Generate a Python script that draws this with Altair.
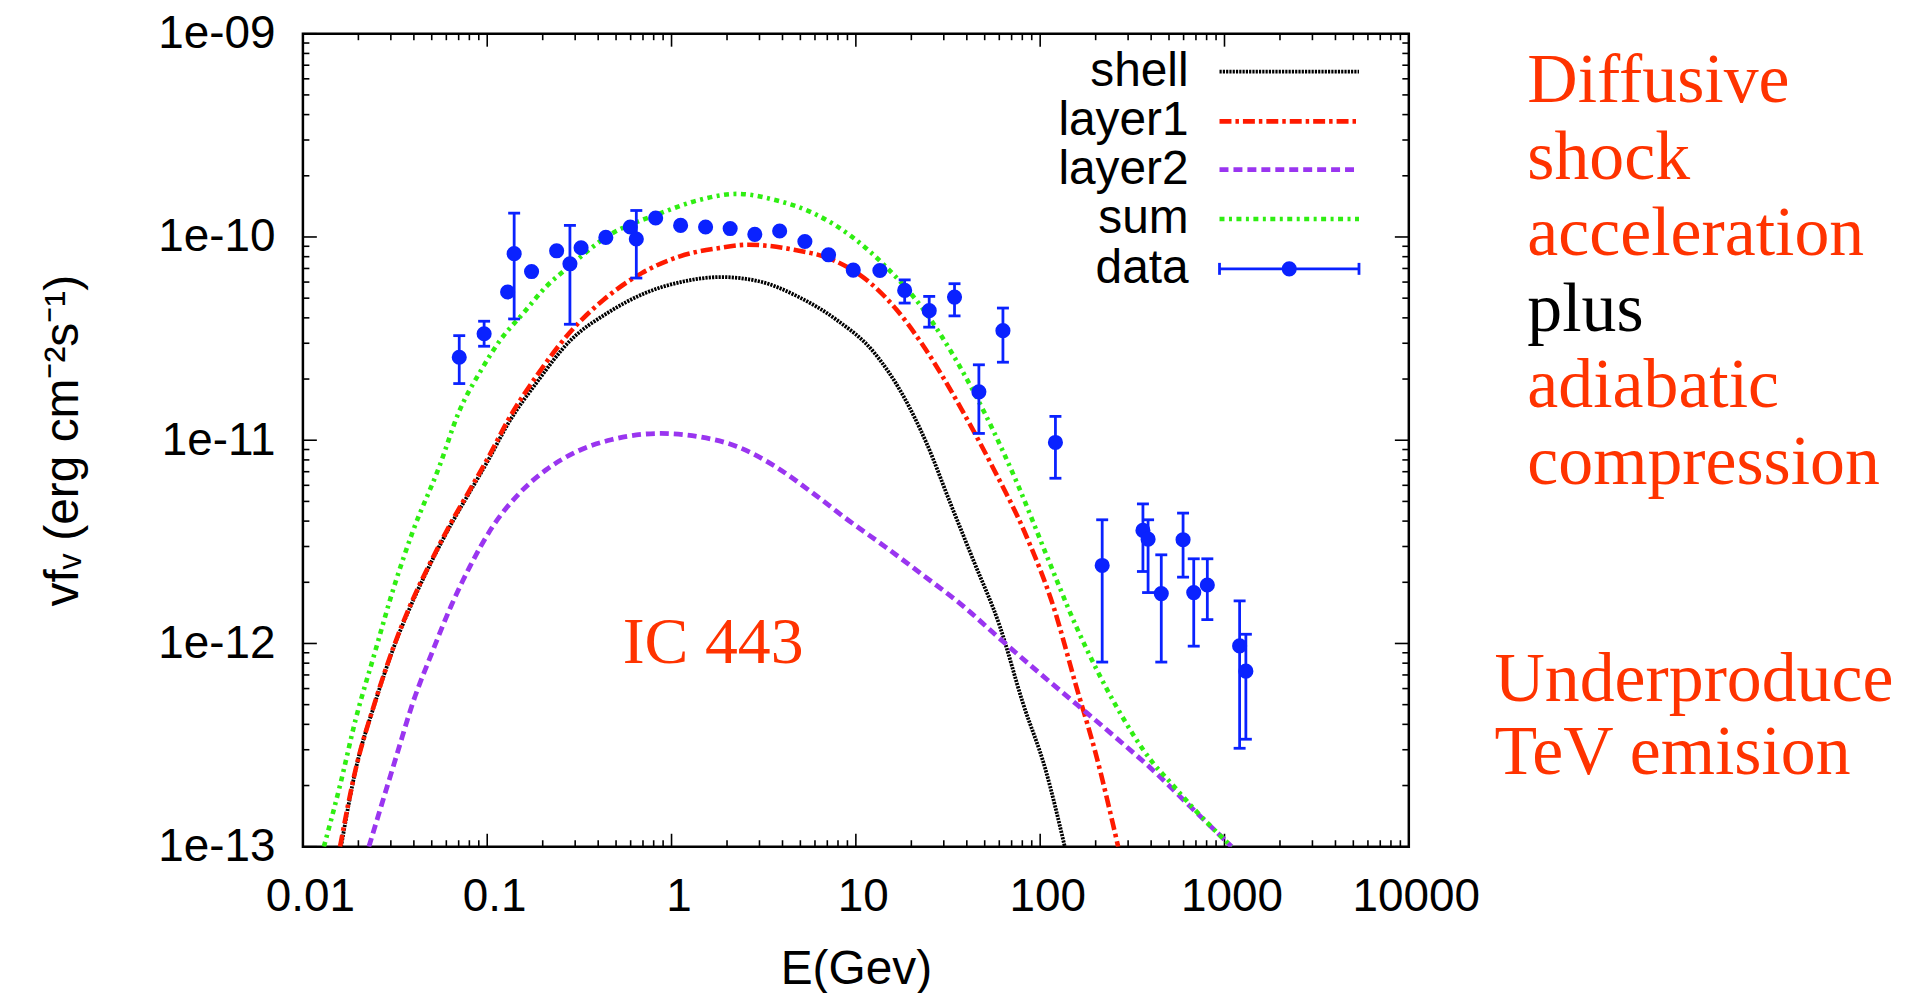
import math
import altair as alt
import pandas as pd

# ---------------- data ----------------
# measured points (E in GeV, nuF_nu in erg cm^-2 s^-1), error bars lo/hi (None = no bar drawn)
data_E = [0.0705, 0.0962, 0.129, 0.140, 0.174, 0.238, 0.281, 0.323, 0.440, 0.597,
          0.644, 0.820, 1.12, 1.53, 2.08, 2.83, 3.86, 5.29, 7.11, 9.68,
          13.5, 18.4, 25.0, 34.3, 46.5, 62.8, 121, 217, 361, 385,
          454, 596, 681, 807, 1208, 1306]
data_F = [2.56e-11, 3.34e-11, 5.36e-11, 8.28e-11, 6.76e-11, 8.55e-11, 7.38e-11, 8.85e-11, 9.95e-11, 1.12e-10,
          9.77e-11, 1.24e-10, 1.14e-10, 1.12e-10, 1.10e-10, 1.03e-10, 1.07e-10, 9.50e-11, 8.17e-11, 6.87e-11,
          6.84e-11, 5.46e-11, 4.34e-11, 5.06e-11, 1.73e-11, 3.46e-11, 9.75e-12, 2.42e-12, 3.60e-12, 3.26e-12,
          1.76e-12, 3.24e-12, 1.78e-12, 1.94e-12, 9.73e-13, 7.31e-13]
data_lo = [1.90e-11, 2.90e-11, None, 3.95e-11, None, None, 3.72e-11, None, None, None,
           6.28e-11, None, None, None, None, None, None, None, None, None,
           None, 4.73e-11, 3.60e-11, 4.09e-11, 1.08e-11, 2.42e-11, 6.50e-12, 8.1e-13, 2.26e-12, 1.78e-12,
           8.1e-13, 2.12e-12, 9.7e-13, 1.31e-12, 3.05e-13, 3.38e-13]
data_hi = [3.27e-11, 3.85e-11, None, 1.31e-10, None, None, 1.14e-10, None, None, None,
           1.35e-10, None, None, None, None, None, None, None, None, None,
           None, 6.15e-11, 5.10e-11, 5.89e-11, 2.35e-11, 4.47e-11, 1.31e-11, 4.06e-12, 4.86e-12, 4.06e-12,
           2.73e-12, 4.38e-12, 2.61e-12, 2.61e-12, 1.62e-12, 1.11e-12]

shell_E = [0.0161, 0.0193, 0.0245, 0.0311, 0.0394, 0.0500, 0.0635, 0.0805, 0.102, 0.130,
           0.190, 0.279, 0.448, 0.721, 1.16, 1.87, 3.01, 4.85, 7.83, 12.6,
           17.9, 24.2, 32.7, 43.3, 60.5, 80.6, 107, 136]
shell_F = [1.0e-13, 2.38e-13, 5.04e-13, 9.57e-13, 1.61e-12, 2.54e-12, 3.84e-12, 5.57e-12, 8.07e-12, 1.21e-11,
           1.98e-11, 3.06e-11, 4.22e-11, 5.30e-11, 6.04e-11, 6.35e-11, 6.04e-11, 5.09e-11, 3.92e-11, 2.69e-11,
           1.68e-11, 9.66e-12, 4.85e-12, 2.58e-12, 1.21e-12, 5.09e-13, 2.39e-13, 1.0e-13]

layer1_E = [0.0159, 0.0193, 0.0245, 0.0311, 0.0394, 0.0500, 0.0635, 0.0805, 0.102, 0.130,
            0.190, 0.279, 0.428, 0.689, 1.11, 1.79, 2.61, 4.62, 7.46, 12.0,
            16.6, 23.3, 37.6, 55.0, 84.3, 118, 157, 200, 265]
layer1_F = [1.0e-13, 2.39e-13, 5.08e-13, 9.66e-13, 1.64e-12, 2.58e-12, 3.91e-12, 5.70e-12, 8.32e-12, 1.26e-11,
            2.14e-11, 3.37e-11, 4.91e-11, 6.64e-11, 8.03e-11, 8.81e-11, 9.16e-11, 8.65e-11, 7.73e-11, 5.93e-11,
            4.40e-11, 2.90e-11, 1.41e-11, 7.43e-12, 3.36e-12, 1.52e-12, 6.14e-13, 2.88e-13, 1.0e-13]

layer2_E = [0.0228, 0.0269, 0.0325, 0.0394, 0.0500, 0.0635, 0.0805, 0.107, 0.150, 0.209,
            0.306, 0.470, 0.873, 1.41, 2.26, 3.65, 5.83, 9.06, 14.5, 23.1,
            37.5, 60.8, 97.2, 158, 252, 409, 655, 1094]
layer2_F = [1.0e-13, 1.64e-13, 2.88e-13, 5.08e-13, 8.95e-13, 1.52e-12, 2.39e-12, 3.76e-12, 5.50e-12, 7.16e-12,
            8.79e-12, 1.005e-11, 1.08e-11, 1.04e-11, 9.32e-12, 7.43e-12, 5.50e-12, 4.05e-12, 2.98e-12, 2.17e-12,
            1.55e-12, 1.05e-12, 7.26e-13, 5.01e-13, 3.50e-13, 2.38e-13, 1.57e-13, 1.0e-13]

sum_E = [0.0130, 0.0160, 0.0193, 0.0245, 0.0311, 0.0394, 0.0550, 0.0698, 0.0929, 0.118,
         0.157, 0.209, 0.279, 0.448, 0.873, 1.41, 2.26, 3.65, 5.87, 9.46,
         14.5, 23.3, 37.5, 50.0, 76.4, 107, 157, 253, 407, 514, 655, 1094]
sum_F = [1.0e-13, 2.05e-13, 4.21e-13, 8.95e-13, 1.88e-12, 3.54e-12, 7.43e-12, 1.36e-11, 2.22e-11, 3.12e-11,
         4.22e-11, 5.70e-11, 7.16e-11, 1.007e-10, 1.31e-10, 1.52e-10, 1.63e-10, 1.52e-10, 1.31e-10, 1.007e-10,
         7.16e-11, 4.39e-11, 2.22e-11, 1.36e-11, 5.91e-12, 2.79e-12, 1.21e-12, 5.09e-13, 2.60e-13, 2.05e-13,
         1.60e-13, 1.0e-13]

legend_labels = ["shell", "layer1", "layer2", "sum", "data"]

x_major = [0.01, 0.1, 1, 10, 100, 1000, 10000]
x_tick_labels = ["0.01", "0.1", "1", "10", "100", "1000", "10000"]
y_major = [1e-13, 1e-12, 1e-11, 1e-10, 1e-9]
y_tick_labels = ["1e-13", "1e-12", "1e-11", "1e-10", "1e-09"]
minor_mult = [2, 3, 4, 5, 6, 7, 8, 9]

x_title = "E(Gev)"
y_title = "vf\u1d65 (erg cm\u207b\u00b2s\u207b\u00b9)"
annot_main = "IC 443"
side_lines = ["Diffusive", "shock", "acceleration", "plus", "adiabatic", "compression"]
side_colors = ["#ff3300", "#ff3300", "#ff3300", "#000000", "#ff3300", "#ff3300"]
side_lines2 = ["Underproduce", "TeV emision"]

# ---------------- styling ----------------
FONT = "Liberation Sans"
SERIF = "Liberation Serif"
W, H = 1110, 816
BLUE = "#0a22ff"
ORANGE = "#ff3300"

x_minor = [m * 10.0 ** d for d in range(-2, 4) for m in minor_mult]
y_minor = [m * 10.0 ** d for d in range(-13, -9) for m in minor_mult]

xs = alt.Scale(type="log", domain=[0.01, 10000], nice=False)
ys = alt.Scale(type="log", domain=[1e-13, 1e-9], nice=False)


def lab_expr(vals, labs):
    e = "''"
    for v, l in reversed(list(zip(vals, labs))):
        e = f"(abs(log(datum.value)/LN10 - ({math.log10(v):.4f})) < 0.05) ? '{l}' : ({e})"
    return e


x_axis = alt.Axis(values=x_major, labelExpr=lab_expr(x_major, x_tick_labels), ticks=False, domain=False,
                  grid=False, labelFont=FONT, labelFontSize=46, labelColor="black", labelPadding=28,
                  labelOffset=7, labelFlush=False, labelOverlap=False, labelBound=False,
                  title=x_title, titleFont=FONT, titleFontSize=48, titleFontWeight="normal",
                  titleColor="black", titleY=137, titleBaseline="alphabetic")
y_axis = alt.Axis(values=y_major, labelExpr=lab_expr(y_major, y_tick_labels), ticks=False, domain=False,
                  grid=False, labelFont=FONT, labelFontSize=46, labelColor="black", labelPadding=28,
                  labelFlush=False, labelOverlap=False, labelBaseline="middle",
                  title=y_title, titleFont=FONT, titleFontSize=48, titleFontWeight="normal",
                  titleColor="black", titleX=-226, titleY=H / 2, titleAngle=270, titleAlign="center",
                  titleBaseline="alphabetic")

X = alt.X("E:Q", scale=xs, axis=x_axis)
Y = alt.Y("F:Q", scale=ys, axis=y_axis)

layers = []

# inward ticks on all four sides
for vals, ln in ((x_major, 13), (x_minor, 6.5)):
    d = pd.DataFrame({"E": vals})
    layers.append(alt.Chart(d).mark_rule(color="black", strokeWidth=1.6).encode(
        x=X, y=alt.value(H - ln), y2=alt.value(H)))
    layers.append(alt.Chart(d).mark_rule(color="black", strokeWidth=1.6).encode(
        x=X, y=alt.value(0), y2=alt.value(ln)))
for vals, ln in ((y_major, 14), (y_minor, 6.5)):
    d = pd.DataFrame({"F": vals})
    layers.append(alt.Chart(d).mark_rule(color="black", strokeWidth=1.6).encode(
        y=Y, x=alt.value(0), x2=alt.value(ln)))
    layers.append(alt.Chart(d).mark_rule(color="black", strokeWidth=1.6).encode(
        y=Y, x=alt.value(W - ln), x2=alt.value(W)))

# model curves
SHELL_STYLE = ("#000000", [2.2, 1.1], 3.8)
L1_STYLE = ("#ff1a00", [12, 4, 3.5, 4], 4.6)
L2_STYLE = ("#9a35f0", [9, 5], 4.8)
SUM_STYLE = ("#2fee12", [5, 4.5, 3, 4.5], 4.6)
curve_specs = [(shell_E, shell_F, SHELL_STYLE), (layer1_E, layer1_F, L1_STYLE),
               (layer2_E, layer2_F, L2_STYLE), (sum_E, sum_F, SUM_STYLE)]
for e, f, (col, dash, sw) in curve_specs:
    d = pd.DataFrame({"E": e, "F": f})
    layers.append(alt.Chart(d).mark_line(color=col, strokeDash=dash, strokeWidth=sw,
                                         interpolate="monotone", clip=True).encode(x=X, y=Y))

# data with error bars
pts = pd.DataFrame({"E": data_E, "F": data_F, "lo": data_lo, "hi": data_hi})
err = pts.dropna().copy()
errd = pd.DataFrame({"E": err["E"], "F": err["lo"], "F2": err["hi"]})
layers.append(alt.Chart(errd).mark_rule(color=BLUE, strokeWidth=2.8).encode(
    x=X, y=Y, y2=alt.Y2("F2:Q")))
caps = pd.DataFrame({"E": list(err["E"]) * 2, "F": list(err["lo"]) + list(err["hi"])})
layers.append(alt.Chart(caps).mark_point(shape="M-1,0L1,0", filled=False, size=144, strokeWidth=2.8,
                                         color=BLUE, opacity=1).encode(x=X, y=Y))
layers.append(alt.Chart(pts[["E", "F"]]).mark_point(shape="circle", filled=True, size=230,
                                                    color=BLUE, opacity=1).encode(x=X, y=Y))

# legend (inside, top right)
dummy = pd.DataFrame({"k": [0]})
leg_y = [38, 88, 136.5, 186, 236]
LX0, LX1, LTXT = 920, 1060, 889
for lab, yy in zip(legend_labels, leg_y):
    layers.append(alt.Chart(dummy).mark_text(text=lab, font=FONT, fontSize=48, align="right",
                                             baseline="middle", color="black").encode(
        x=alt.value(LTXT), y=alt.value(yy)))
for (col, dash, sw), yy in zip([SHELL_STYLE, L1_STYLE, L2_STYLE, SUM_STYLE], leg_y[:4]):
    layers.append(alt.Chart(dummy).mark_rule(color=col, strokeDash=dash, strokeWidth=sw).encode(
        x=alt.value(LX0), x2=alt.value(LX1), y=alt.value(yy)))
yd = leg_y[4]
layers.append(alt.Chart(dummy).mark_rule(color=BLUE, strokeWidth=2.8).encode(
    x=alt.value(LX0), x2=alt.value(LX1), y=alt.value(yd)))
for xx in (LX0, LX1):
    layers.append(alt.Chart(dummy).mark_rule(color=BLUE, strokeWidth=2.8).encode(
        x=alt.value(xx), y=alt.value(yd - 6), y2=alt.value(yd + 6)))
layers.append(alt.Chart(dummy).mark_point(shape="circle", filled=True, size=230, color=BLUE,
                                          opacity=1).encode(x=alt.value((LX0 + LX1) / 2), y=alt.value(yd)))

# annotations
layers.append(alt.Chart(dummy).mark_text(text=annot_main, font=SERIF, fontSize=66, align="left",
                                         baseline="alphabetic", color=ORANGE).encode(
    x=alt.value(321), y=alt.value(632)))
for i, (txt, col) in enumerate(zip(side_lines, side_colors)):
    layers.append(alt.Chart(dummy).mark_text(text=txt, font=SERIF, fontSize=70, align="left",
                                             baseline="alphabetic", color=col).encode(
        x=alt.value(1229), y=alt.value(69 + i * 76.5)))
for i, txt in enumerate(side_lines2):
    layers.append(alt.Chart(dummy).mark_text(text=txt, font=SERIF, fontSize=70, align="left",
                                             baseline="alphabetic", color=ORANGE).encode(
        x=alt.value(1196), y=alt.value(670 + i * 73)))

chart = alt.layer(*layers).properties(
    width=W, height=H,
    autosize=alt.AutoSizeParams(type="none"),
    padding={"left": 296, "top": 24, "right": 490, "bottom": 145},
    background="white",
).configure_view(stroke="black", strokeWidth=2.5)

chart.save("out.html", embed_options={"renderer": "svg", "actions": False})
